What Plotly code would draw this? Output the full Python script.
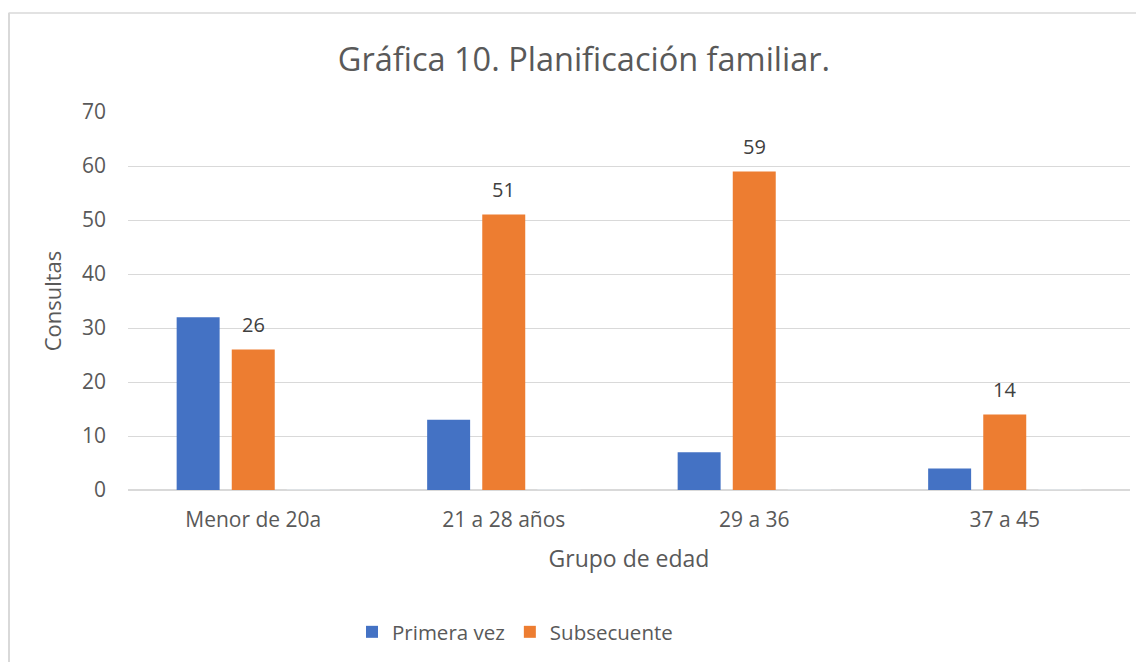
import plotly.graph_objects as go

categories = ["Menor de 20a", "21 a 28 años", "29 a 36", "37 a 45"]
primera_vez = [32, 13, 7, 4]
subsecuente = [26, 51, 59, 14]
tercera = [0, 0, 0, 0]
y_ticks = [0, 10, 20, 30, 40, 50, 60, 70]

FONT = "Open Sans, sans-serif"
OFF = 8  # page body margin

# target plot area in viewport pixels
PL, PR, PT, PB = 128, 1130, 112, 490
W, H = 1144, 662
pw = PR - PL
ph = PB - PT


def px(x):
    return (x - PL) / pw


def py(y):
    return (PB - y) / ph


fig = go.Figure()
fig.add_trace(go.Bar(x=categories, y=primera_vez, name="Primera vez",
                     marker=dict(color="#4472C4", line=dict(width=0))))
fig.add_trace(go.Bar(x=categories, y=subsecuente, name="Subsecuente",
                     marker=dict(color="#ED7D31", line=dict(width=0))))
fig.add_trace(go.Bar(x=categories, y=tercera, name="", showlegend=False,
                     marker=dict(color="rgba(0,0,0,0)"), hoverinfo="skip"))

annotations = [
    dict(x=c, y=v, xref="x", yref="y", text=str(v), showarrow=False,
         yanchor="middle", yshift=25,
         font=dict(size=20, color="#404040", family=FONT))
    for c, v in zip(categories, subsecuente)
]

fig.update_layout(
    width=W, height=H,
    paper_bgcolor="white", plot_bgcolor="white",
    margin=dict(l=PL - OFF, r=W - (PR - OFF), t=PT - OFF, b=H - (PB - OFF)),
    font=dict(family=FONT, color="#595959", size=20),
    title=dict(text="Gráfica 10. Planificación familiar.", x=(584 - OFF) / W, xref="container",
               xanchor="center", y=1 - (60 - OFF) / H, yanchor="middle",
               font=dict(size=32.5, color="#595959", family=FONT)),
    barmode="group", bargap=0.34, bargroupgap=0.22,
    showlegend=True,
    legend=dict(orientation="h", x=px(352), xanchor="left",
                y=py(632), yanchor="middle",
                font=dict(size=20.5, color="#595959", family=FONT),
                itemwidth=30, tracegroupgap=0),
    xaxis=dict(title=dict(text="Grupo de edad", font=dict(size=23, color="#595959"), standoff=18),
               showline=True, linecolor="#d9d9d9", linewidth=1, ticks="",
               tickfont=dict(size=21, color="#595959"), ticklabelstandoff=11),
    yaxis=dict(title=dict(text="Consultas", font=dict(size=22, color="#595959"), standoff=14),
               range=[0, 70], tickvals=y_ticks, showgrid=True, gridcolor="#d9d9d9",
               gridwidth=1, zeroline=True, zerolinecolor="#d9d9d9", showline=False,
               tickfont=dict(size=21, color="#595959"), ticklabelstandoff=21),
    annotations=annotations,
    shapes=[
        dict(type="line", xref="paper", yref="paper",
             x0=px(8.5), x1=px(1160), y0=py(13), y1=py(13),
             line=dict(color="#d9d9d9", width=1.5)),
        dict(type="line", xref="paper", yref="paper",
             x0=px(9), x1=px(9), y0=py(13), y1=py(680),
             line=dict(color="#d9d9d9", width=2)),
    ],
)

fig.write_html("out.html")
